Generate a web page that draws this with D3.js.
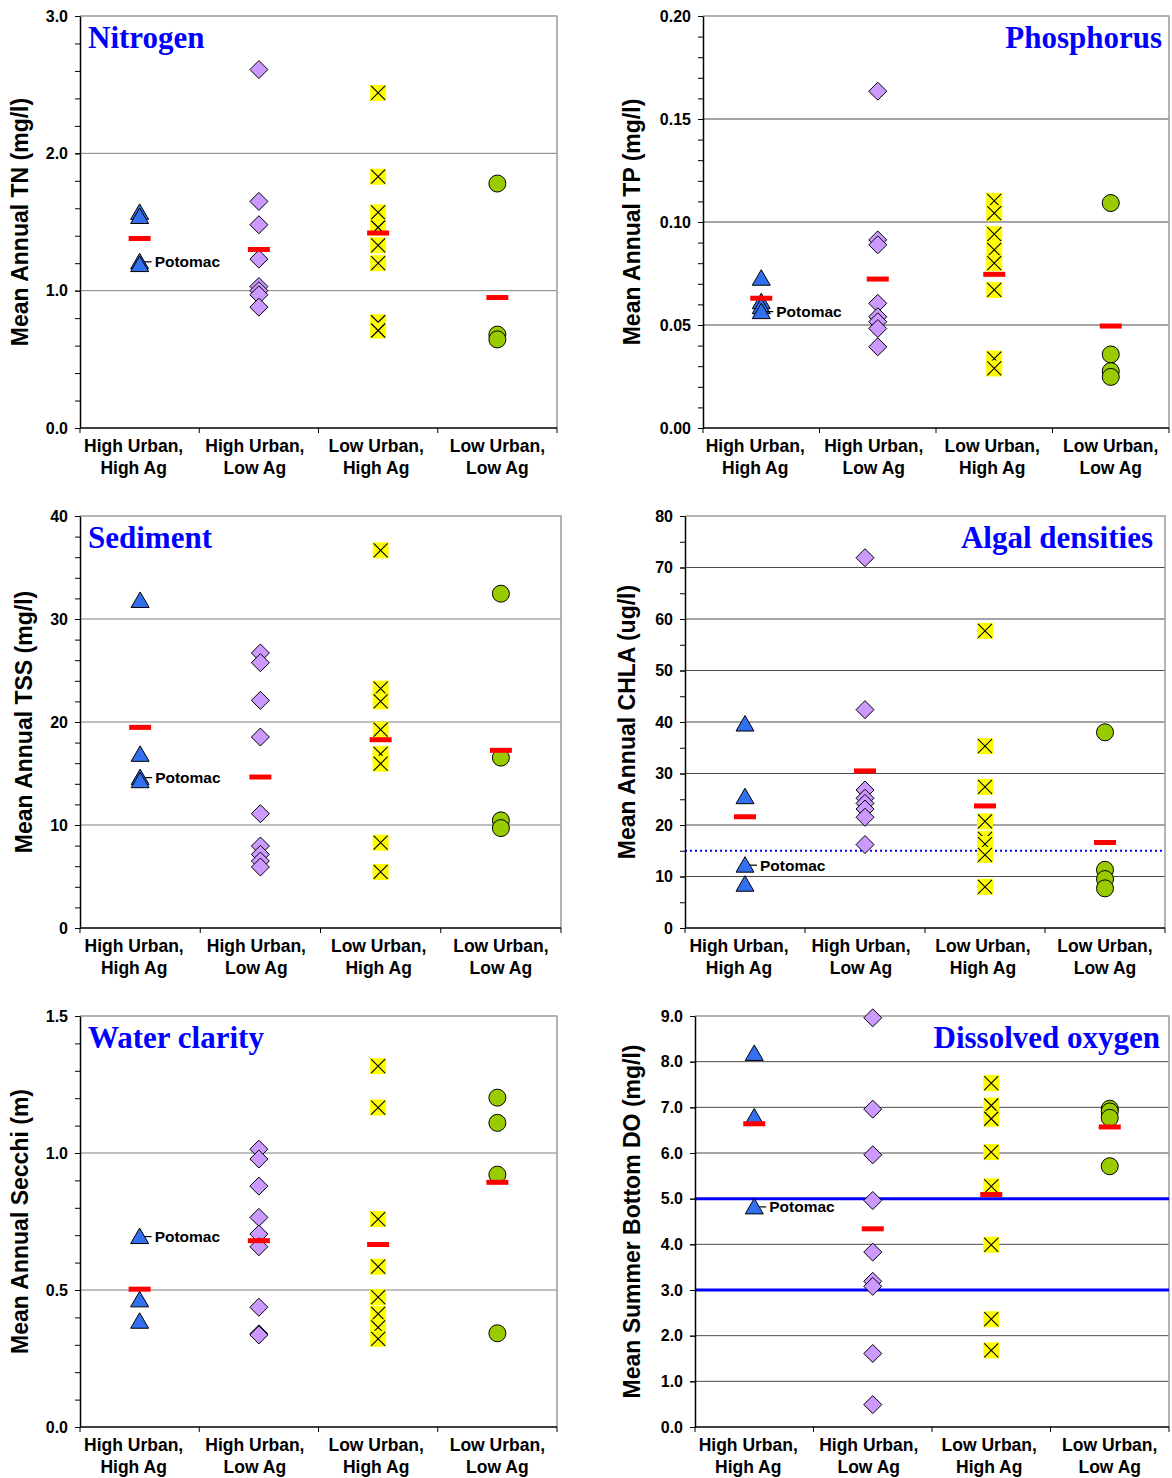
<!DOCTYPE html>
<html><head><meta charset="utf-8">
<script src="https://cdn.jsdelivr.net/npm/d3@7"></script>
<style>body{margin:0;background:#fff}</style>
</head><body>
<svg id="c" width="1172" height="1478" xmlns="http://www.w3.org/2000/svg"></svg>
<script>
// ---------------- DATA ----------------
const categories = [["High Urban,", "High Ag"], ["High Urban,", "Low Ag"], ["Low Urban,", "High Ag"], ["Low Urban,", "Low Ag"]];

const nitrogenValues = [[1.57, 1.54, 1.21, 1.19], [2.61, 1.65, 1.48, 1.23, 1.03, 1.00, 0.97, 0.88], [2.44, 1.83, 1.57, 1.46, 1.33, 1.20, 0.77, 0.71], [1.78, 0.68, 0.645]];
const nitrogenMeans = [1.38, 1.30, 1.42, 0.95];
const nitrogenTicks = [0, 1, 2, 3];

const phosphorusValues = [[0.0727, 0.0613, 0.0589, 0.0565], [0.1635, 0.0913, 0.0889, 0.0605, 0.054, 0.0516, 0.0483, 0.0394], [0.1103, 0.1043, 0.0941, 0.0865, 0.080, 0.067, 0.0337, 0.0289], [0.1092, 0.0357, 0.0276, 0.0248]];
const phosphorusMeans = [0.063, 0.0723, 0.0746, 0.0495];
const phosphorusTicks = [0, 0.05, 0.10, 0.15, 0.20];

const sedimentValues = [[31.8, 16.86, 14.6, 14.3], [26.7, 25.76, 22.1, 18.54, 11.1, 7.96, 7.15, 6.5, 5.92], [36.67, 23.24, 22.0, 19.26, 16.9, 15.95, 8.28, 5.44], [32.46, 16.54, 10.45, 9.7]];
const sedimentMeans = [19.48, 14.66, 18.28, 17.25];
const sedimentTicks = [0, 10, 20, 30, 40];

const algalValues = [[39.6, 25.5, 12.2, 8.5], [71.9, 42.4, 26.8, 25.2, 24.2, 23.1, 21.5, 16.2], [57.7, 35.3, 27.4, 20.7, 17.3, 16.3, 14.2, 8.0], [38.0, 11.3, 9.5, 7.7]];
const algalMeans = [21.6, 30.5, 23.7, 16.6];
const algalTicks = [0, 10, 20, 30, 40, 50, 60, 70, 80];
const algalThreshold = 15;

const clarityValues = [[0.695, 0.464, 0.386], [1.014, 0.978, 0.879, 0.765, 0.704, 0.658, 0.437, 0.34, 0.336], [1.317, 1.166, 0.759, 0.585, 0.474, 0.413, 0.364, 0.322], [1.202, 1.11, 0.921, 0.342]];
const clarityMeans = [0.503, 0.68, 0.666, 0.893];
const clarityTicks = [0, 0.5, 1.0, 1.5];

const oxygenValues = [[8.18, 6.79, 4.82], [8.96, 6.96, 5.96, 4.96, 3.83, 3.19, 3.08, 1.61, 0.49], [7.53, 7.04, 6.75, 6.02, 5.27, 3.99, 2.36, 1.68], [6.97, 6.91, 6.77, 5.71]];
const oxygenMeans = [6.64, 4.34, 5.09, 6.57];
const oxygenTicks = [0, 1, 2, 3, 4, 5, 6, 7, 8, 9];
const oxygenThresholds = [5.0, 3.0];

// index of the Potomac station within the first category
const potomacIndex = [2, 3, 2, 2, 0, 2];

// ---------------- LAYOUT ----------------
const panels = [
  {title: "Nitrogen", align: "left", yTitle: "Mean Annual TN (mg/l)", values: nitrogenValues, means: nitrogenMeans, ticks: nitrogenTicks, minor: 0.2, fmt: ".1f",
   x0: 80, x1: 557, y0: 16, y1: 428, yTitleX: 20, titleX: 88},
  {title: "Phosphorus", align: "right", yTitle: "Mean Annual TP (mg/l)", values: phosphorusValues, means: phosphorusMeans, ticks: phosphorusTicks, minor: 0.01, fmt: ".2f",
   x0: 703, x1: 1169, y0: 16, y1: 428, yTitleX: 632, titleX: 1162},
  {title: "Sediment", align: "left", yTitle: "Mean Annual TSS (mg/l)", values: sedimentValues, means: sedimentMeans, ticks: sedimentTicks, minor: 2, fmt: "d",
   x0: 80, x1: 561, y0: 516, y1: 928, yTitleX: 24, titleX: 88},
  {title: "Algal densities", align: "right", yTitle: "Mean Annual CHLA (ug/l)", values: algalValues, means: algalMeans, ticks: algalTicks, minor: 5, fmt: "d",
   x0: 685, x1: 1165, y0: 516, y1: 928, yTitleX: 627, titleX: 1153, dotted: [algalThreshold]},
  {title: "Water clarity", align: "left", yTitle: "Mean Annual Secchi (m)", values: clarityValues, means: clarityMeans, ticks: clarityTicks, minor: 0.1, fmt: ".1f",
   x0: 80, x1: 557, y0: 1016, y1: 1427, yTitleX: 20, titleX: 88},
  {title: "Dissolved oxygen", align: "right", yTitle: "Mean Summer Bottom DO (mg/l)", values: oxygenValues, means: oxygenMeans, ticks: oxygenTicks, minor: null, fmt: ".1f",
   x0: 695, x1: 1169, y0: 1016, y1: 1427, yTitleX: 632, titleX: 1160, solid: oxygenThresholds}
];
const labelShift = [-6, -4, -2, 0];

const SANS = "'Liberation Sans', Arial, sans-serif";
const SERIF = "'Liberation Serif', 'Times New Roman', serif";
const svg = d3.select("#c");

function drawMarker(g, type, cx, cy) {
  if (type === 0) { // triangle
    g.append("path").attr("d", `M${cx},${cy-8.5}L${cx+9},${cy+7}L${cx-9},${cy+7}Z`)
      .attr("fill", "#3370F0").attr("stroke", "#000").attr("stroke-width", 1);
  } else if (type === 1) { // diamond
    g.append("path").attr("d", `M${cx},${cy-9}L${cx+9},${cy}L${cx},${cy+9}L${cx-9},${cy}Z`)
      .attr("fill", "#CC99FF").attr("stroke", "#000").attr("stroke-width", 1);
  } else if (type === 2) { // yellow box with x
    g.append("rect").attr("x", cx-8).attr("y", cy-8).attr("width", 16).attr("height", 16).attr("fill", "#FFFF00");
    g.append("path").attr("d", `M${cx-7},${cy-7}L${cx+7},${cy+7}M${cx+7},${cy-7}L${cx-7},${cy+7}`)
      .attr("stroke", "#000").attr("stroke-width", 1.1).attr("fill", "none");
  } else { // circle
    g.append("circle").attr("cx", cx).attr("cy", cy).attr("r", 8.5)
      .attr("fill", "#99CC00").attr("stroke", "#000").attr("stroke-width", 1);
  }
}

panels.forEach((p, pi) => {
  const g = svg.append("g");
  const x = d3.scaleBand().domain(d3.range(4)).range([p.x0, p.x1]);
  const ymax = p.ticks[p.ticks.length - 1];
  const y = d3.scaleLinear().domain([0, ymax]).range([p.y1, p.y0]);

  // gridlines
  g.selectAll(".grid").data(p.ticks.slice(1, -1)).enter().append("line")
    .attr("x1", p.x0).attr("x2", p.x1).attr("y1", d => y(d)).attr("y2", d => y(d))
    .attr("stroke", pi % 2 ? "#4a4a4a" : "#808080").attr("stroke-width", 1);
  // border top/right
  g.append("path").attr("d", `M${p.x0},${p.y0}H${p.x1}V${p.y1}`).attr("fill", "none").attr("stroke", "#9a9a9a").attr("stroke-width", 1.5);

  // reference lines
  if (p.dotted) p.dotted.forEach(v => g.append("line").attr("x1", p.x0).attr("x2", p.x1).attr("y1", y(v)).attr("y2", y(v))
    .attr("stroke", "#0000FF").attr("stroke-width", 2).attr("stroke-dasharray", "2,3"));
  if (p.solid) p.solid.forEach(v => g.append("line").attr("x1", p.x0).attr("x2", p.x1).attr("y1", y(v)).attr("y2", y(v))
    .attr("stroke", "#0000FF").attr("stroke-width", 3));

  // y axis
  const minorTicks = p.minor ? d3.range(0, ymax + p.minor / 2, p.minor) : p.ticks;
  const yMinor = g.append("g").attr("transform", `translate(${p.x0},0)`)
    .call(d3.axisLeft(y).tickValues(minorTicks).tickSize(5).tickFormat(""));
  yMinor.select(".domain").remove();
  yMinor.selectAll("line").attr("stroke", "#000");
  const yAxis = g.append("g").attr("transform", `translate(${p.x0},0)`)
    .call(d3.axisLeft(y).tickValues(p.ticks).tickSize(5).tickPadding(7).tickFormat(d3.format(p.fmt)).tickSizeOuter(0));
  yAxis.select(".domain").attr("stroke", "#000").attr("stroke-width", 1.5);
  yAxis.selectAll("line").attr("stroke", "#000");
  yAxis.selectAll("text").attr("font-family", SANS).attr("font-weight", "bold").attr("font-size", 16).attr("fill", "#000");

  // x axis
  const xAxis = g.append("g").attr("transform", `translate(0,${p.y1})`);
  xAxis.append("line").attr("x1", p.x0).attr("x2", p.x1).attr("y1", 0).attr("y2", 0).attr("stroke", "#000").attr("stroke-width", 1.5);
  const bounds = d3.range(5).map(i => i < 4 ? x(i) : x(3) + x.bandwidth());
  xAxis.selectAll(".xt").data(bounds).enter().append("line")
    .attr("x1", d => d).attr("x2", d => d).attr("y1", 0).attr("y2", 5).attr("stroke", "#000");
  categories.forEach((c, i) => {
    const t = xAxis.append("text").attr("text-anchor", "middle").attr("font-family", SANS).attr("font-weight", "bold").attr("font-size", 17.5).attr("fill", "#000");
    c.forEach((line, li) => t.append("tspan").attr("x", x(i) + x.bandwidth() / 2 + labelShift[i]).attr("y", 24 + li * 22).text(line));
  });

  // y title
  g.append("text").attr("transform", `translate(${p.yTitleX + 8},${(p.y0 + p.y1) / 2}) rotate(-90)`)
    .attr("text-anchor", "middle").attr("font-family", SANS).attr("font-weight", "bold").attr("font-size", 23).attr("fill", "#000").text(p.yTitle);

  // panel title
  g.append("text").attr("x", p.titleX).attr("y", p.y0 + 32)
    .attr("text-anchor", p.align === "left" ? "start" : "end")
    .attr("font-family", SERIF).attr("font-weight", "bold").attr("font-size", 31).attr("fill", "#0000FF").text(p.title);

  // points
  p.values.forEach((vals, ci) => {
    const cx = x(ci) + x.bandwidth() / 2;
    vals.forEach(v => drawMarker(g, ci, cx, y(v)));
  });

  // Potomac label
  const cx0 = x(0) + x.bandwidth() / 2;
  const py = y(p.values[0][potomacIndex[pi]]);
  g.append("line").attr("x1", cx0 + 5).attr("x2", cx0 + 12).attr("y1", py).attr("y2", py).attr("stroke", "#000").attr("stroke-width", 1.2);
  g.append("text").attr("x", cx0 + 15).attr("y", py + 5.5).attr("font-family", SANS).attr("font-weight", "bold").attr("font-size", 15.5).attr("fill", "#000").text("Potomac");

  // means
  p.means.forEach((m, ci) => {
    const cx = x(ci) + x.bandwidth() / 2;
    g.append("rect").attr("x", cx - 11).attr("y", y(m) - 2.5).attr("width", 22).attr("height", 5).attr("fill", "#FF0000");
  });
});
</script>
</body></html>
